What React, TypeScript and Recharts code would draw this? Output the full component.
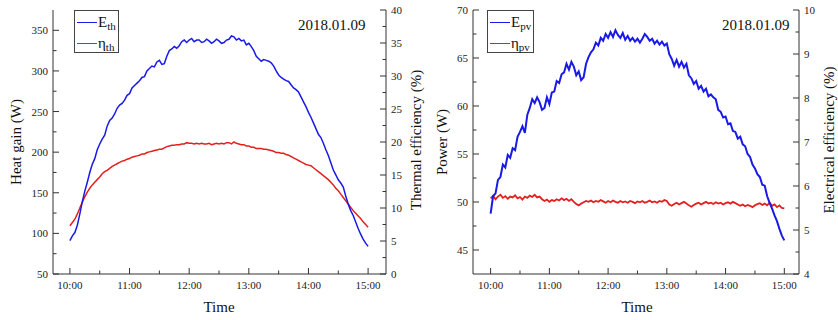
import React from "react"
import { LineChart, Line, XAxis, YAxis } from "recharts"

const FONT = '"Liberation Serif", "Times New Roman", serif'
const BLUE = "#1a1ae6"
const RED = "#e41f1f"
const AXIS = "#333"

// minutes after 10:00, one reading every 2.5 min
const E_TH = [
  91, 97, 101, 110, 124, 139, 152, 163, 175, 185,
  192, 203, 210, 216, 221, 232, 239, 242, 247, 254,
  258, 260, 264, 270, 272, 279, 282, 285, 288, 292,
  293, 300, 303, 306, 305, 311, 313, 308, 309, 318,
  325, 327, 330, 328, 331, 336, 338, 335, 338, 340,
  336, 338, 338, 335, 336, 339, 337, 334, 336, 339,
  337, 334, 335, 338, 339, 343, 342, 338, 340, 337,
  338, 332, 334, 330, 325, 318, 315, 312, 314, 313,
  312, 310, 306, 300, 295, 292, 290, 288, 287, 283,
  279, 277, 274, 268, 262, 256, 249, 243, 236, 229,
  222, 218, 211, 203, 196, 187, 178, 172, 166, 162,
  157, 146, 136, 128, 122, 114, 106, 99, 93, 88,
  84,
]

const ETA_TH = [
  7.3, 7.8, 8.3, 9.1, 10.0, 10.9, 11.7, 12.4, 13.0, 13.5,
  13.9, 14.3, 14.7, 15.2, 15.5, 15.7, 16.0, 16.3, 16.5, 16.7,
  16.9, 17.1, 17.2, 17.4, 17.5, 17.7, 17.8, 17.9, 18.0, 18.2,
  18.2, 18.4, 18.5, 18.6, 18.7, 18.8, 18.9, 18.9, 19.1, 19.3,
  19.4, 19.5, 19.5, 19.6, 19.6, 19.7, 19.7, 19.9, 19.8, 19.8,
  19.7, 19.8, 19.7, 19.8, 19.7, 19.7, 19.8, 19.6, 19.7, 19.8,
  19.7, 19.8, 19.7, 19.9, 19.9, 19.7, 20.0, 19.8, 19.7, 19.6,
  19.6, 19.4, 19.4, 19.2, 19.2, 19.0, 19.0, 19.0, 18.9, 18.9,
  18.8, 18.7, 18.6, 18.4, 18.4, 18.3, 18.3, 18.1, 18.0, 17.8,
  17.6, 17.4, 17.2, 17.0, 16.8, 16.6, 16.5, 16.4, 16.1, 15.8,
  15.5, 15.2, 14.9, 14.6, 14.3, 13.9, 13.5, 13.0, 12.6, 12.1,
  11.6, 11.1, 10.6, 10.1, 9.6, 9.2, 8.8, 8.4, 7.9, 7.5,
  7.1,
]

const E_PV = [
  48.8, 50.6, 50.9, 52.3, 52.6, 53.9, 53.6, 54.9, 54.6, 55.6,
  55.4, 56.8, 57.3, 57.9, 57.2, 59.1, 59.8, 60.7, 60.3, 60.9,
  60.4, 59.6, 59.8, 60.9, 60.2, 61.4, 61.5, 62.6, 62.4, 63.3,
  63.5, 64.4, 63.8, 64.6, 64.1, 63.2, 63.6, 62.7, 63.0, 64.4,
  65.1, 65.6, 65.9, 66.6, 66.3, 67.1, 66.8, 67.5, 67.1, 67.7,
  67.2, 67.9, 67.4, 67.1, 67.6, 66.9, 67.3, 66.8, 67.1, 66.7,
  67.0, 66.6, 67.0, 67.5, 67.2, 66.8, 67.0, 66.5, 66.8, 66.4,
  66.7, 66.3, 66.5, 65.4, 64.9, 64.2, 64.8, 64.1, 64.6, 64.0,
  64.4, 63.2, 62.9, 62.3, 62.6, 61.8, 62.1, 61.5, 61.8, 61.0,
  61.2, 60.9, 60.7, 59.6, 59.4, 58.8, 58.9, 58.1, 58.2, 57.4,
  57.3, 56.6, 56.8, 56.0, 55.8, 55.0, 54.7, 53.9, 53.5, 52.9,
  52.6, 51.8, 51.7, 50.6, 49.9, 49.3, 48.6, 48.0, 47.2, 46.5,
  46.0,
]

const ETA_PV = [
  5.72, 5.78, 5.70, 5.76, 5.80, 5.73, 5.77, 5.71, 5.76, 5.74,
  5.79, 5.72, 5.75, 5.69, 5.76, 5.73, 5.78, 5.75, 5.80, 5.74,
  5.76, 5.70, 5.66, 5.69, 5.64, 5.68, 5.66, 5.70, 5.67, 5.72,
  5.68, 5.71, 5.66, 5.70, 5.64, 5.59, 5.56, 5.60, 5.63, 5.66,
  5.64, 5.67, 5.63, 5.66, 5.64, 5.68, 5.65, 5.62, 5.66, 5.63,
  5.67, 5.64, 5.62, 5.66, 5.63, 5.65, 5.62, 5.66, 5.64, 5.61,
  5.65, 5.63, 5.66, 5.62, 5.64, 5.67, 5.63, 5.65, 5.62, 5.66,
  5.64, 5.68, 5.66, 5.58, 5.55, 5.59, 5.62, 5.58, 5.61, 5.64,
  5.60, 5.56, 5.53, 5.57, 5.60, 5.62, 5.58, 5.61, 5.64, 5.60,
  5.62, 5.59, 5.63, 5.60, 5.62, 5.58, 5.61, 5.63, 5.60, 5.64,
  5.61, 5.58, 5.55, 5.58, 5.54, 5.57, 5.55, 5.52, 5.56, 5.59,
  5.61, 5.57, 5.60, 5.56, 5.62, 5.55, 5.58, 5.52, 5.56, 5.50,
  5.49,
]

const STEP = 2.5
const X_TICKS = [0, 30, 60, 90, 120, 150, 180, 210, 240, 270, 300]
const HEAT_TICKS = [50, 75, 100, 125, 150, 175, 200, 225, 250, 275, 300, 325, 350]
const THERMAL_TICKS = [0, 2.5, 5, 7.5, 10, 12.5, 15, 17.5, 20, 22.5, 25, 27.5, 30, 32.5, 35, 37.5, 40]
const POWER_TICKS = [45, 47.5, 50, 52.5, 55, 57.5, 60, 62.5, 65, 67.5, 70]
const ELEC_TICKS = [4, 4.5, 5, 5.5, 6, 6.5, 7, 7.5, 8, 8.5, 9, 9.5, 10]

const thermalRows = E_TH.map((e, i) => ({ t: i * STEP, e, eta: ETA_TH[i] }))
const pvRows = E_PV.map((e, i) => ({ t: i * STEP, e, eta: ETA_PV[i] }))

const timeLabel = (v: number) => `${10 + v / 60}:00`

function makeTick(side: "left" | "right" | "bottom", every: number, fmt: (v: number) => string) {
  return (props: any) => {
    const { x, y, payload } = props
    const v = payload.value
    const major = Math.abs(v / every - Math.round(v / every)) < 1e-6
    const len = major ? 6 : 3.5
    const t = { fontFamily: FONT, fontSize: 11, fill: "#222" }
    if (side === "left") {
      return (
        <g>
          <line x1={x} x2={x + len} y1={y} y2={y} stroke={AXIS} />
          {major && <text x={x - 5} y={y + 4} textAnchor="end" {...t} style={t}>{fmt(v)}</text>}
        </g>
      )
    }
    if (side === "right") {
      return (
        <g>
          <line x1={x - len} x2={x} y1={y} y2={y} stroke={AXIS} />
          {major && <text x={x + 5} y={y + 4} textAnchor="start" {...t} style={t}>{fmt(v)}</text>}
        </g>
      )
    }
    return (
      <g>
        <line x1={x} x2={x} y1={y - len} y2={y} stroke={AXIS} />
        {major && <text x={x} y={y + 15} textAnchor="middle" {...t} style={t}>{fmt(v)}</text>}
      </g>
    )
  }
}

const abs = (left: number, top: number, extra: React.CSSProperties = {}): React.CSSProperties => ({
  position: "absolute",
  left,
  top,
  fontFamily: FONT,
  color: "#111",
  whiteSpace: "nowrap",
  ...extra,
})

function Title({ text, x, y, vertical }: { text: string; x: number; y: number; vertical?: boolean }) {
  return (
    <div style={abs(x, y, { fontSize: 15, lineHeight: 1, transform: `translate(-50%, -50%)${vertical ? " rotate(-90deg)" : ""}` })}>
      {text}
    </div>
  )
}

function LegendBox({ left, width, sub }: { left: number; width: number; sub: string }) {
  const row = (color: string, sym: string) => (
    <div style={{ display: "flex", alignItems: "center", height: 21 }}>
      <span style={{ display: "inline-block", width: 20, height: 0, borderTop: `1.5px solid ${color}`, marginRight: 1 }} />
      <span style={{ fontSize: 15, lineHeight: 1 }}>
        {sym}
        <span style={{ fontSize: 11, position: "relative", top: 3 }}>{sub}</span>
      </span>
    </div>
  )
  return (
    <div style={abs(left, 10, { width, height: 43, boxSizing: "border-box", border: "1px solid #444", padding: "1px 0 0 2px" })}>
      {row(BLUE, "E")}
      {row(RED, "η")}
    </div>
  )
}

function Panel(props: {
  rows: any[]
  width: number
  rightWidth: number
  xDomain: [number, number]
  leftDomain: [number, number]
  leftTicks: number[]
  leftEvery: number
  rightDomain: [number, number]
  rightTicks: number[]
  rightEvery: number
  blueWidth: number
  redWidth: number
}) {
  const p = props
  return (
    <LineChart width={p.width} height={320} data={p.rows} margin={{ top: 10, right: 0, bottom: 26, left: 0 }}>
      <XAxis
        dataKey="t"
        type="number"
        domain={p.xDomain}
        ticks={X_TICKS}
        interval={0}
        allowDataOverflow
        tickSize={0}
        tickMargin={0}
        height={20}
        stroke={AXIS}
        tick={makeTick("bottom", 60, timeLabel)}
      />
      <YAxis
        yAxisId="l"
        orientation="left"
        width={53}
        domain={p.leftDomain}
        ticks={p.leftTicks}
        interval={0}
        allowDataOverflow
        tickSize={0}
        tickMargin={0}
        stroke={AXIS}
        tick={makeTick("left", p.leftEvery, (v) => String(v))}
      />
      <YAxis
        yAxisId="r"
        orientation="right"
        width={p.rightWidth}
        domain={p.rightDomain}
        ticks={p.rightTicks}
        interval={0}
        allowDataOverflow
        tickSize={0}
        tickMargin={0}
        stroke={AXIS}
        tick={makeTick("right", p.rightEvery, (v) => String(v))}
      />
      <Line yAxisId="r" dataKey="eta" type="linear" stroke={RED} strokeWidth={p.redWidth} dot={false} isAnimationActive={false} />
      <Line yAxisId="l" dataKey="e" type="linear" stroke={BLUE} strokeWidth={p.blueWidth} dot={false} isAnimationActive={false} />
    </LineChart>
  )
}

export default function App() {
  return (
    <div style={{ position: "absolute", left: 0, top: 0, width: 838, height: 320, background: "#fff", overflow: "hidden" }}>
      <div style={{ position: "absolute", left: 0, top: 0 }}>
        <Panel
          rows={thermalRows}
          width={420}
          rightWidth={34}
          xDomain={[-17, 318]}
          leftDomain={[50, 375]}
          leftTicks={HEAT_TICKS}
          leftEvery={50}
          rightDomain={[0, 40]}
          rightTicks={THERMAL_TICKS}
          rightEvery={5}
          blueWidth={1.5}
          redWidth={1.5}
        />
      </div>
      <div style={{ position: "absolute", left: 420, top: 0 }}>
        <Panel
          rows={pvRows}
          width={418}
          rightWidth={39}
          xDomain={[-18, 315]}
          leftDomain={[42.5, 70]}
          leftTicks={POWER_TICKS}
          leftEvery={5}
          rightDomain={[4, 10]}
          rightTicks={ELEC_TICKS}
          rightEvery={1}
          blueWidth={2}
          redWidth={1.8}
        />
      </div>

      <LegendBox left={74} width={45} sub="th" />
      <LegendBox left={487} width={47} sub="pv" />

      <div style={abs(298, 18, { fontSize: 15, lineHeight: 1 })}>2018.01.09</div>
      <div style={abs(722, 18, { fontSize: 15, lineHeight: 1 })}>2018.01.09</div>

      <Title text="Heat gain (W)" x={16} y={142} vertical />
      <Title text="Thermal efficiency (%)" x={416} y={140} vertical />
      <Title text="Time" x={219} y={307} />
      <Title text="Power (W)" x={442} y={142} vertical />
      <Title text="Electrical efficiency (%)" x={829} y={140} vertical />
      <Title text="Time" x={637} y={307} />
    </div>
  )
}
